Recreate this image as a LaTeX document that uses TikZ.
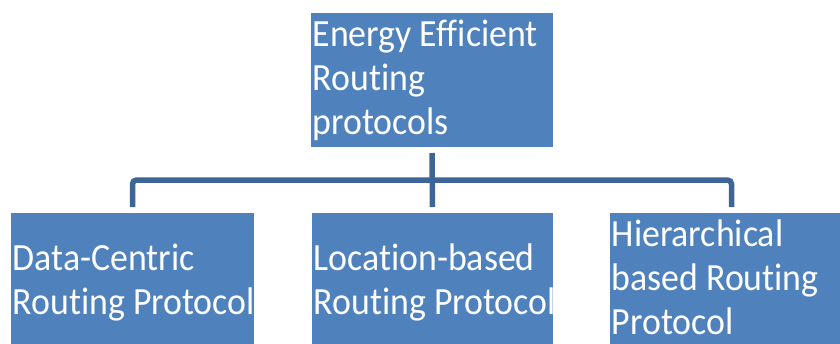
\documentclass[tikz,border=0pt]{standalone}
\usepackage{fontspec}
\setmainfont{Carlito}[FakeStretch=0.93,Ligatures={NoCommon}]
\definecolor{boxblue}{HTML}{4F81BD}
\definecolor{linkblue}{HTML}{3D6696}
\begin{document}
\begin{tikzpicture}[x=1pt,y=-1pt,
  box/.style={fill=boxblue, draw=none, inner sep=0pt, outer sep=0pt, anchor=north west},
  txt/.style={text=white, inner sep=0pt, anchor=north west, align=left,
    font=\fontsize{38.5}{44}\selectfont},
  conn/.style={draw=linkblue, line width=5.5pt, shorten <=6pt, shorten >=6pt}]
\useasboundingbox (0,0) rectangle (840,343);
\clip (0,0) rectangle (840,343);
\node[box, minimum width=242pt, minimum height=134pt] (top) at (311,13) {};
\node[box, minimum width=243pt, minimum height=140pt] (dc) at (11,213) {};
\node[box, minimum width=241pt, minimum height=140pt] (loc) at (312,213) {};
\node[box, minimum width=243pt, minimum height=140pt] (hier) at (610,213) {};
\node[txt] (toptext) at ([xshift=1.5pt]top.north west) {\rule{0pt}{33pt}Energy Efficient\\Routing\\protocols};
\node[txt] (dctext) at ([xshift=1.5pt]dc.north west) {\rule{0pt}{57pt}Data-Centric\\Routing Protocol};
\node[txt] (loctext) at ([xshift=1.5pt]loc.north west) {\rule{0pt}{57pt}Location-based\\Routing Protocol};
\node[txt] (hiertext) at ([xshift=1.5pt]hier.north west) {\rule{0pt}{33pt}Hierarchical\\based Routing\\Protocol};
\coordinate (j) at (top.south |- 0,180);
\draw[conn] (top.south) -- (loc.north);
\draw[conn, rounded corners=4pt] (dc.north) |- (j) -| (hier.north);
\end{tikzpicture}
\end{document}
